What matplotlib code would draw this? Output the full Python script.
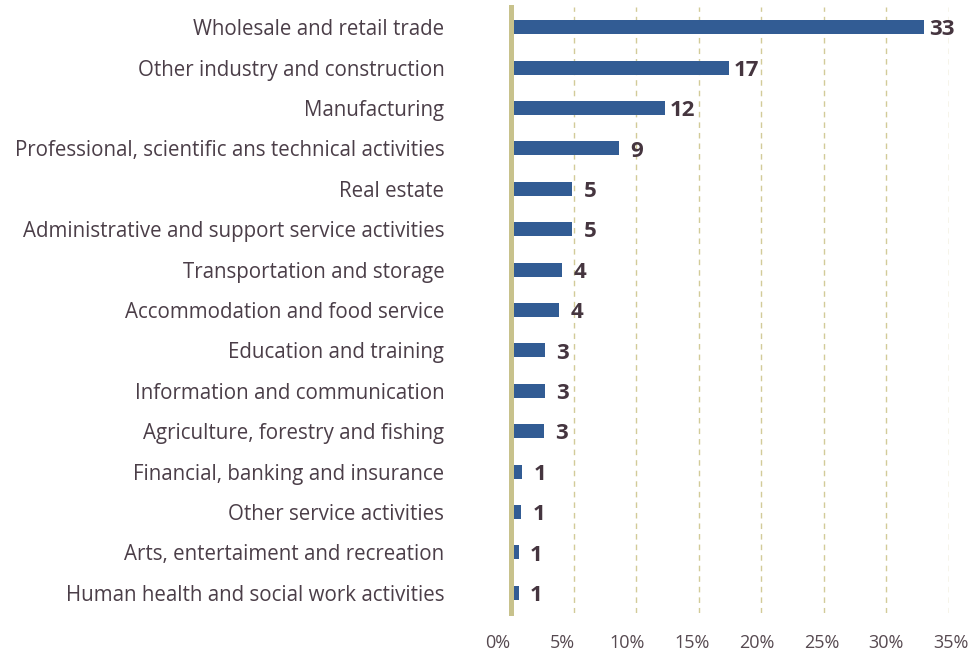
import matplotlib
matplotlib.use("Agg")
import matplotlib.pyplot as plt

# ─── DATA ────────────────────────────────────────────────────
SECTORS = [
    "Wholesale and retail trade",
    "Other industry and construction",
    "Manufacturing",
    "Professional, scientific ans technical activities",
    "Real estate",
    "Administrative and support service activities",
    "Transportation and storage",
    "Accommodation and food service",
    "Education and training",
    "Information and communication",
    "Agriculture, forestry and fishing",
    "Financial, banking and insurance",
    "Other service activities",
    "Arts, entertaiment and recreation",
    "Human health and social work activities",
]
SHARE_PCT = [33.0, 17.4, 12.3, 8.6, 4.9, 4.9, 4.1, 3.8, 2.7, 2.7, 2.6, 0.9, 0.8, 0.6, 0.6]
TICKS = [0, 5, 10, 15, 20, 25, 30, 35]
TICK_LABELS = [f"{t}%" for t in TICKS]

# ─── STYLE ───────────────────────────────────────────────────
BAR_COLOR = "#325c94"
AXIS_COLOR = "#c8c28c"
GRID_COLOR = "#d2cb98"
TEXT_COLOR = "#4b3e48"
VALUE_COLOR = "#45353f"
FONT = ["Open Sans", "DejaVu Sans"]

plt.rcParams["font.family"] = FONT
plt.rcParams["lines.scale_dashes"] = False

W, H = 974, 656
fig = plt.figure(figsize=(W / 100, H / 100), dpi=100)

# plot area: 0% at x=511px, 12.5px per percent, rows from y=7 to y=613
x0, y_top, y_bot = 511, 7, 613
ax = fig.add_axes([x0 / W, (H - y_bot) / H, 35 * 12.5 / W, (y_bot - y_top) / H])

pos = list(range(len(SECTORS)))
ax.barh(pos, SHARE_PCT, height=0.35, color=BAR_COLOR, zorder=2)

for p, v in zip(pos, SHARE_PCT):
    ax.annotate(f"{v:.0f}", (v, p), xytext=(13, -2), textcoords="offset points",
                ha="center", va="center", fontsize=16, fontweight="bold",
                color=VALUE_COLOR, zorder=3)

ax.set_xlim(0, 35)
ax.set_ylim(len(SECTORS) - 0.5, -0.5)

for t in TICKS[1:]:
    ax.axvline(t, color=GRID_COLOR, linewidth=1.0, linestyle=(0, (4, 3.6)), zorder=1)

for side in ["top", "right", "bottom"]:
    ax.spines[side].set_visible(False)
ax.spines["left"].set_color(AXIS_COLOR)
ax.spines["left"].set_linewidth(3.6)
ax.spines["left"].set_zorder(4)

ax.set_yticks(pos)
ax.set_yticklabels(SECTORS, fontsize=14.8, color=TEXT_COLOR)
ax.tick_params(axis="y", length=0, pad=48)
ax.set_xticks([])

# percentage scale along the bottom
tx0, tx1 = 498, 951
ax_t = fig.add_axes([tx0 / W, (H - y_bot) / H, (tx1 - tx0) / W, 0.001])
ax_t.set_xlim(0, 35)
ax_t.set_xticks(TICKS)
ax_t.set_xticklabels(TICK_LABELS, fontsize=13, color="#564950")
ax_t.tick_params(axis="x", length=0, pad=15)
ax_t.set_yticks([])
for s in ax_t.spines.values():
    s.set_visible(False)
ax_t.patch.set_visible(False)

fig.savefig("out.png", dpi=100)
